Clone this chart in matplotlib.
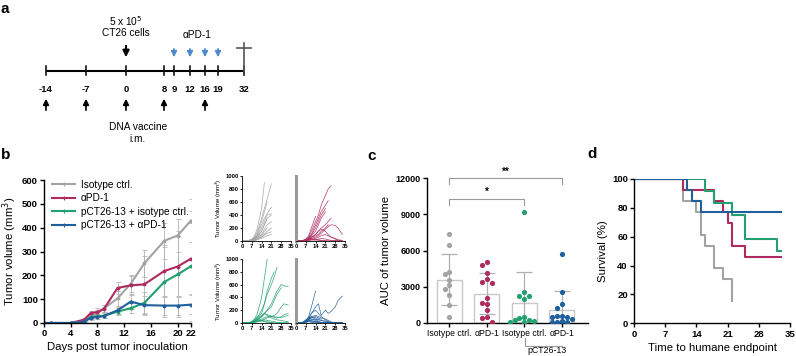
import numpy as np
import matplotlib
matplotlib.use("Agg")
import matplotlib.pyplot as plt
from matplotlib.lines import Line2D

plt.rcParams['font.family'] = ['Liberation Sans', 'DejaVu Sans']

W, H = 796, 356

# ---- colours
c_iso = '#a3a3a3'
c_pd1 = '#ae2a5f'
c_vac = '#22a06e'
c_vpd = '#1f5f9c'
c_arrow = '#4f8ac8'

# ---- panel a (schedule)
tl_days = ['-14', '-7', '0', '8', '9', '12', '16', '19', '32']
tl_pos = [46, 86, 126, 164, 174, 190, 205, 218, 244]   # schematic, not to scale
vacc_days = ['-14', '-7', '0', '8', '16']
pd1_days = ['9', '12', '16', '19']

# ---- panel b (mean tumour volume)
b_days = [0, 1, 4, 6, 7, 8, 9, 11, 13, 15, 18, 20, 22]
iso_mean = [0, 0, 0, 8, 30, 40, 62, 103, 165, 250, 345, 367, 430]
iso_sd = [0, 0, 0, 5, 10, 15, 15, 30, 35, 55, 75, 70, 90]
pd1_mean = [0, 0, 0, 14, 42, 46, 60, 147, 158, 162, 218, 237, 270]
pd1_sd = [0, 0, 0, 5, 10, 15, 15, 25, 40, 120, 110, 130, 150]
vac_mean = [0, 0, 0, 5, 25, 28, 30, 48, 62, 84, 172, 204, 238]
vac_sd = [0, 0, 0, 5, 8, 10, 10, 15, 20, 45, 145, 180, 230]
vpd_mean = [0, 0, 0, 5, 22, 25, 30, 53, 90, 75, 73, 73, 77]
vpd_sd = [0, 0, 0, 3, 8, 8, 10, 15, 30, 40, 40, 40, 40]
group_names = ['Isotype ctrl.', 'αPD-1', 'pCT26-13 + isotype ctrl.', 'pCT26-13 + αPD-1']

# ---- individual curves
sp_days = [0, 4, 7, 9, 11, 14, 16, 18, 21, 23, 25, 28, 30, 33]
iso_mice = [
    [0, 0, 30, 80, 200, 500, 900],
    [0, 0, 20, 60, 150, 350, 500, 650, 880],
    [0, 0, 25, 50, 120, 300, 450, 600],
    [0, 0, 10, 40, 100, 250, 350, 420, 520],
    [0, 0, 15, 40, 80, 200, 300, 400, 420],
    [0, 0, 10, 30, 60, 150, 250, 350, 400],
    [0, 0, 5, 20, 50, 100, 180, 250, 300],
    [0, 0, 0, 10, 30, 60, 100, 150, 200],
    [0, 0, 0, 5, 20, 40, 60, 80, 100],
    [0, 0, 10, 30, 60, 100, 150, 200],
    [0, 0, 5, 15, 30, 60, 90, 120, 140],
    [0, 0, 20, 40, 80, 150, 250, 350],
    [0, 0, 10, 20, 40, 80, 120],
]
pd1_mice = [
    [0, 0, 20, 60, 150, 300, 400, 550, 700, 800, 850],
    [0, 0, 15, 40, 100, 250, 350, 450, 550, 620],
    [0, 0, 30, 80, 200, 380],
    [0, 0, 20, 50, 100, 200, 300, 400, 500],
    [0, 0, 10, 30, 80, 150, 250, 350, 450],
    [0, 0, 10, 20, 50, 100, 150, 200, 250, 300, 350],
    [0, 0, 5, 20, 40, 60, 80, 120, 180, 220, 250, 240, 200, 100],
    [0, 0, 10, 30, 60, 100, 150, 180, 150, 100, 60, 30, 10, 0],
    [0, 0, 10, 20, 30, 40, 60, 80, 100, 80, 60, 40, 20, 10],
    [0, 0, 5, 10, 20, 30, 20, 10, 5, 0, 0, 0, 0, 0],
    [0, 0, 10, 15, 20, 15, 10, 5, 0, 0, 0, 0, 0, 0],
    [0, 0, 20, 40, 60, 80, 100, 150, 200, 250],
    [0, 0, 5, 10, 15, 20, 30, 40, 30, 20, 10, 5, 0, 0],
]
vac_mice = [
    [0, 0, 20, 60, 150, 400, 700, 1000],
    [0, 0, 10, 30, 80, 200, 300, 450, 600, 720, 870],
    [0, 0, 10, 20, 50, 100, 150, 200, 300, 400, 500, 600, 580, 570],
    [0, 0, 5, 10, 20, 40, 60, 80, 100, 120, 150, 250, 300, 280],
    [0, 0, 10, 20, 40, 60, 80, 100, 100, 90, 80, 100, 130, 150],
    [0, 0, 20, 40, 80, 120, 150, 130, 110, 100, 90, 80, 100, 120],
    [0, 0, 10, 20, 30, 40, 50, 40, 30, 20, 10, 0, 0, 0],
    [0, 0, 5, 10, 20, 30, 20, 10, 5, 0, 0, 0, 0, 0],
    [0, 0, 20, 60, 100, 150, 300, 500, 700, 800],
    [0, 0, 10, 30, 50, 40, 30, 20, 10, 0, 0, 0, 0, 0],
    [0, 0, 15, 30, 60, 100, 150, 120, 80, 60, 50, 40, 30, 20],
    [0, 0, 5, 20, 50, 100, 150, 200, 250, 350, 450, 550],
]
vpd_mice = [
    [0, 0, 30, 100, 250, 500],
    [0, 0, 20, 60, 150, 250, 300, 120, 200, 150, 180, 250, 350, 420],
    [0, 0, 30, 80, 150, 200, 150, 100, 50, 20, 0, 0, 0, 0],
    [0, 0, 40, 80, 100, 80, 60, 40, 20, 0, 0, 0, 0, 0],
    [0, 0, 20, 60, 100, 120, 100, 80, 60, 40, 20, 0, 0, 0],
    [0, 0, 50, 80, 60, 40, 20, 0, 0, 0, 0, 0, 0, 0],
    [0, 0, 30, 50, 40, 20, 10, 0, 0, 0, 0, 0, 0, 0],
    [0, 0, 20, 40, 30, 20, 10, 0, 0, 0, 0, 0, 0, 0],
    [0, 0, 10, 30, 50, 60, 50, 40, 30, 20, 10, 0, 0, 0],
    [0, 0, 20, 40, 80, 100, 80, 60],
    [0, 0, 10, 20, 10, 0, 0, 0, 0, 0, 0, 0, 0, 0],
    [0, 0, 30, 60, 90, 60, 30, 10, 0, 0, 0, 0, 0, 0],
    [0, 0, 15, 30, 20, 10, 0, 0, 0, 0, 0, 0, 0, 0],
]

# ---- panel c (AUC)
auc_groups = ['Isotype ctrl.', 'αPD-1', 'Isotype ctrl.', 'αPD-1']
auc_iso = [7370, 6450, 4240, 4020, 3550, 3130, 2800, 2300, 1470, 440]
auc_pd1 = [5070, 4790, 4150, 3630, 3350, 3270, 2020, 1660, 1550, 1050, 440, 360, 80]
auc_vac = [9200, 2520, 2250, 2200, 2000, 450, 400, 250, 200, 100, 50, 30]
auc_vpd = [5680, 2520, 1550, 1250, 580, 550, 500, 440, 280, 100, 50, 30, 20]

# ---- panel d (survival)
surv_iso_t = [0, 11, 14, 15, 16, 18, 20, 22]
surv_iso = [100, 84.6, 76.9, 61.5, 53.8, 38.5, 30.8, 15.4]
surv_pd1_t = [0, 11, 18, 20, 21, 22, 25, 33]
surv_pd1 = [100, 92.3, 84.6, 76.9, 69.2, 53.8, 46.2, 46.2]
surv_vac_t = [0, 16, 18, 22, 25, 32, 33]
surv_vac = [100, 91.7, 83.3, 75, 58.3, 50, 50]
surv_vpd_t = [0, 12, 13, 15, 33]
surv_vpd = [100, 92.3, 84.6, 76.9, 76.9]


def box(x0, y0, x1, y1):
    # pixel box (top-left origin) -> figure rect
    return [x0 / W, 1 - y1 / H, (x1 - x0) / W, (y1 - y0) / H]


def prism(ax, lw=1.0):
    for s in ['top', 'right']:
        ax.spines[s].set_visible(False)
    for s in ['left', 'bottom']:
        ax.spines[s].set_linewidth(lw)
    ax.tick_params(width=lw, length=3, pad=1.5)
    for lab in ax.get_xticklabels() + ax.get_yticklabels():
        lab.set_fontweight('bold')


fig = plt.figure(figsize=(W / 100, H / 100), dpi=100)

# panel letters
for letter, x, y in [('a', 5, 9), ('b', 6, 155), ('c', 372, 156), ('d', 592, 154)]:
    fig.text(x / W, 1 - y / H, letter, fontsize=11, fontweight='bold', va='center', ha='center')

# ================= a
ax = fig.add_axes(box(0, 0, 400, 145))
ax.set_xlim(0, 400)
ax.set_ylim(145, 0)
ax.axis('off')
line_y = 70.7
ax.plot([tl_pos[0], tl_pos[-1]], [line_y, line_y], color='k', lw=1.5, solid_capstyle='butt')
for d, xp in zip(tl_days, tl_pos):
    ax.plot([xp, xp], [line_y - 5, line_y + 4], color='k', lw=1.1)
    ax.text(xp, 89.5, d, ha='center', va='center', fontsize=6.8, fontweight='bold')
for d in vacc_days:
    xp = tl_pos[tl_days.index(d)]
    ax.annotate('', xy=(xp, 96), xytext=(xp, 113),
                arrowprops=dict(arrowstyle='-|>', color='k', lw=1.2, mutation_scale=8.5))
for d in pd1_days:
    xp = tl_pos[tl_days.index(d)]
    ax.annotate('', xy=(xp, 60), xytext=(xp, 46),
                arrowprops=dict(arrowstyle='-|>', color=c_arrow, lw=1.2, mutation_scale=8.5))
x0 = tl_pos[tl_days.index('0')]
ax.annotate('', xy=(x0, 60), xytext=(x0, 43),
            arrowprops=dict(arrowstyle='-|>', color='k', lw=1.5, mutation_scale=9.5))
x32 = tl_pos[-1]
ax.plot([x32, x32], [43, line_y], color='#555555', lw=1.2)
ax.plot([x32 - 7, x32 + 7], [48, 48], color='#555555', lw=1.2)
ax.text(x0, 21, r'5 x 10$^5$', ha='center', va='center', fontsize=7.3)
ax.text(x0, 33, 'CT26 cells', ha='center', va='center', fontsize=7.3)
ax.text(197, 35.5, 'αPD-1', ha='center', va='center', fontsize=7.3)
ax.text(138, 127, 'DNA vaccine', ha='center', va='center', fontsize=7.3)
ax.text(138, 139, 'i.m.', ha='center', va='center', fontsize=7.3)

# ================= b
ax = fig.add_axes(box(44, 180, 191, 323))
series = [(iso_mean, iso_sd, c_iso), (pd1_mean, pd1_sd, c_pd1),
          (vac_mean, vac_sd, c_vac), (vpd_mean, vpd_sd, c_vpd)]
handles = []
for (m, s, c), name in zip(series, group_names):
    ax.errorbar(b_days, m, yerr=s, color=c, ecolor='#b5b5b5', elinewidth=0.6,
                capsize=1.8, capthick=0.6, lw=1.5, marker='o', ms=1.8)
    handles.append(Line2D([], [], color=c, lw=1.5, marker='+', ms=3, mew=0.8, label=name))
ax.set_xlim(0, 22)
ax.set_ylim(0, 600)
ax.set_xticks([0, 4, 8, 12, 16, 20, 22])
ax.set_yticks(range(0, 601, 100))
ax.tick_params(labelsize=6.8)
prism(ax)
ax.set_ylabel('Tumor volume (mm$^3$)', fontsize=8.2, labelpad=2)
ax.set_xlabel('Days post tumor inoculation', fontsize=8.2, labelpad=3)
ax.legend(handles=handles, loc='upper left', bbox_to_anchor=(0.03, 1.03), frameon=False,
          fontsize=7.3, handlelength=2.2, handletextpad=0.6, labelspacing=0.35, borderaxespad=0)

# ================= individual curves
sp_boxes = [(242, 176, 291, 241), (296, 176, 345, 241),
            (242, 259, 291, 323), (296, 259, 345, 323)]
sp_sets = [(iso_mice, c_iso), (pd1_mice, c_pd1), (vac_mice, c_vac), (vpd_mice, c_vpd)]
for i, (bx, (mice, c)) in enumerate(zip(sp_boxes, sp_sets)):
    ax = fig.add_axes(box(*bx))
    for mv in mice:
        ax.plot(sp_days[:len(mv)], mv, color=c, lw=0.55, alpha=0.85)
    ax.set_xlim(0, 35)
    ax.set_ylim(0, 1000)
    ax.set_xticks(range(0, 36, 7))
    for s in ['top', 'right']:
        ax.spines[s].set_visible(False)
    ax.spines['bottom'].set_linewidth(0.6)
    ax.tick_params(axis='x', labelsize=4.2, length=1.5, width=0.6, pad=1)
    if i % 2 == 0:
        ax.set_yticks(range(0, 1001, 200))
        ax.tick_params(axis='y', labelsize=4.2, length=1.5, width=0.6, pad=1)
        ax.spines['left'].set_linewidth(0.6)
        ax.set_ylabel('Tumor Volume (mm$^3$)', fontsize=4.3, labelpad=1)
    else:
        ax.set_yticks([])
        ax.spines['left'].set_linewidth(2.2)
        ax.spines['left'].set_color('#9a9a9a')
    for lab in ax.get_xticklabels() + ax.get_yticklabels():
        lab.set_fontweight('bold')

# ================= c
ax = fig.add_axes(box(427, 178.3, 588, 322.7))
auc_sets = [(auc_iso, c_iso), (auc_pd1, c_pd1), (auc_vac, c_vac), (auc_vpd, c_vpd)]


def swarm(vals, step=0.13, tol=380):
    placed, offs = [], []
    for v in vals:
        for k in [0, -1, 1, -2, 2, -3, 3]:
            o = k * step
            if all(abs(o - po) >= step * 0.95 or abs(v - pv) >= tol for po, pv in placed):
                break
        placed.append((o, v))
        offs.append(o)
    return np.array(offs)


for i, (vals, c) in enumerate(auc_sets):
    vals = np.array(vals)
    m, s = vals.mean(), vals.std(ddof=1)
    ax.bar(i, m, width=0.67, color='white', edgecolor='#c8c8c8', lw=1.0, zorder=1)
    ax.errorbar(i, m, yerr=[[min(s, m)], [s]], color='#b0b0b0', lw=0.9, capsize=6,
                capthick=0.9, zorder=2)
    ax.scatter(i + swarm(vals), vals, s=14, color=c, zorder=3, linewidths=0)
ax.set_xlim(-0.6, 3.7)
ax.set_ylim(0, 12000)
ax.set_yticks(range(0, 12001, 3000))
ax.set_xticks(range(4))
ax.set_xticklabels(auc_groups)
ax.tick_params(axis='y', labelsize=6.5)
ax.tick_params(axis='x', labelsize=6.2, length=3)
prism(ax)
for lab in ax.get_xticklabels():
    lab.set_fontweight('normal')
ax.set_ylabel('AUC of tumor volume', fontsize=8.2, labelpad=3)
# significance brackets
for (a, b), yb, txt in [((0, 3), 12000, '**'), ((0, 2), 10300, '*')]:
    ax.plot([a, a, b, b], [yb - 500, yb, yb, yb - 500], color='#9a9a9a', lw=0.8, clip_on=False)
    ax.text((a + b) / 2, yb + 150, txt, ha='center', va='bottom', fontsize=7, fontweight='bold')
# group bracket below
ax.plot([2.03, 2.03, 3.0], [-1300, -1900, -1900], color='#9a9a9a', lw=0.8, clip_on=False)
ax.text(2.6, -2330, 'pCT26-13', ha='center', va='center', fontsize=6.3)

# ================= d
ax = fig.add_axes(box(634, 179, 790, 323.3))
surv = [(surv_iso_t, surv_iso, c_iso), (surv_pd1_t, surv_pd1, c_pd1),
        (surv_vac_t, surv_vac, c_vac), (surv_vpd_t, surv_vpd, c_vpd)]
for t, sv, c in surv:
    ax.step(t, sv, where='post', color=c, lw=1.5)
ax.set_xlim(0, 35)
ax.set_ylim(0, 100)
ax.set_xticks(range(0, 36, 7))
ax.set_yticks(range(0, 101, 20))
ax.tick_params(labelsize=6.8)
prism(ax)
ax.set_ylabel('Survival (%)', fontsize=8.2, labelpad=3)
ax.set_xlabel('Time to humane endpoint', fontsize=8.2, labelpad=3)

fig.savefig('out.png', dpi=100)
